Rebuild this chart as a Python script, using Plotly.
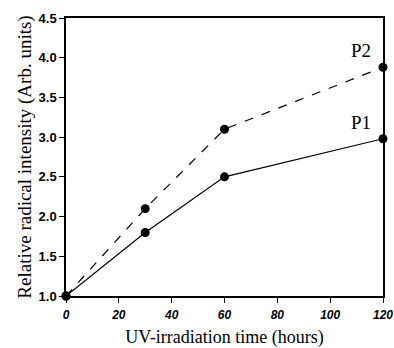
import plotly.graph_objects as go

time_hours = [0, 30, 60, 120]
p1_values = [1.0, 1.8, 2.5, 2.98]
p2_values = [1.0, 2.1, 3.1, 3.88]
series_labels = ["P1", "P2"]

fig = go.Figure()
fig.add_trace(go.Scatter(x=time_hours, y=p2_values, mode="lines+markers",
                         name=series_labels[1],
                         line=dict(color="black", width=1.2, dash="dash"),
                         marker=dict(color="black", size=9), cliponaxis=False))
fig.add_trace(go.Scatter(x=time_hours, y=p1_values, mode="lines+markers",
                         name=series_labels[0],
                         line=dict(color="black", width=1.2),
                         marker=dict(color="black", size=9), cliponaxis=False))

fig.add_annotation(x=time_hours[-1], y=p2_values[-1], text=series_labels[1],
                   showarrow=False, xanchor="right", yanchor="bottom",
                   xshift=-10, yshift=4,
                   font=dict(family="Liberation Serif", size=19, color="black"))
fig.add_annotation(x=time_hours[-1], y=p1_values[-1], text=series_labels[0],
                   showarrow=False, xanchor="right", yanchor="bottom",
                   xshift=-10, yshift=4,
                   font=dict(family="Liberation Serif", size=19, color="black"))

fig.update_layout(
    width=394, height=348,
    margin=dict(l=66, r=11, t=18, b=52),
    paper_bgcolor="white", plot_bgcolor="white",
    showlegend=False,
    font=dict(family="Liberation Sans", color="black"),
)
fig.update_xaxes(range=[0, 120], tickvals=[0, 20, 40, 60, 80, 100, 120],
                 automargin=False, ticklabelstandoff=2, ticklabeloverflow="allow",
                 ticks="outside", ticklen=5, tickwidth=1, tickcolor="black",
                 showline=True, linecolor="black", linewidth=1.5, mirror=True,
                 showgrid=False, zeroline=False,
                 tickfont=dict(family="Liberation Sans", size=12, weight="bold", style="italic"),
                 title=dict(text="UV-irradiation time (hours)", standoff=9,
                            font=dict(family="Liberation Serif", size=18)))
fig.update_yaxes(range=[1.0, 4.5], tickvals=[1.0, 1.5, 2.0, 2.5, 3.0, 3.5, 4.0, 4.5],
                 tickformat=".1f", automargin=False,
                 ticks="outside", ticklen=5, tickwidth=1, tickcolor="black",
                 showline=True, linecolor="black", linewidth=1.5, mirror=True,
                 showgrid=False, zeroline=False,
                 tickfont=dict(family="Liberation Sans", size=13, weight="bold"),
                 title=dict(text="Relative radical intensity (Arb. units)", standoff=2,
                            font=dict(family="Liberation Serif", size=19)))

fig.write_html("out.html", config={"displayModeBar": False},
               post_script="document.body.style.margin='0';document.body.style.overflow='hidden';")
